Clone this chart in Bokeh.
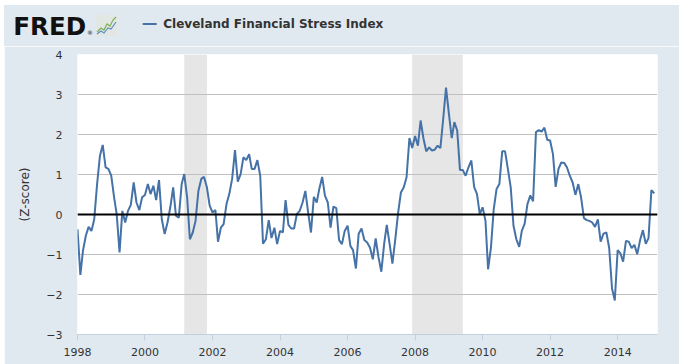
import pandas as pd
from datetime import datetime
from bokeh.plotting import figure
from bokeh.layouts import column, row
from bokeh.models import (Range1d, FixedTicker, DatetimeTickFormatter, Span,
                          BoxAnnotation, Div, Spacer)
from bokeh.embed import file_html
from bokeh.resources import INLINE

# ---------------- data ----------------
series_name = "Cleveland Financial Stress Index"
start_month = "1998-01-01"
cfsi = [
    -0.37, -1.51, -0.91, -0.53, -0.31, -0.41, -0.12, 0.76, 1.47, 1.74, 1.18, 1.14,
    0.97, 0.43, 0.01, -0.95, 0.09, -0.20, 0.09, 0.24, 0.80, 0.30, 0.11, 0.43,
    0.49, 0.76, 0.51, 0.72, 0.36, 0.86, -0.12, -0.49, -0.20, 0.18, 0.68, -0.03,
    -0.08, 0.76, 1.01, 0.43, -0.62, -0.45, -0.16, 0.59, 0.89, 0.94, 0.68, 0.22,
    0.05, 0.11, -0.68, -0.33, -0.24, 0.26, 0.51, 0.89, 1.61, 0.82, 1.01, 1.43,
    1.36, 1.51, 1.14, 1.14, 1.36, 0.97, -0.73, -0.62, -0.14, -0.59, -0.33, -0.74,
    -0.41, -0.45, 0.36, -0.26, -0.35, -0.35, 0.01, 0.09, 0.30, 0.59, 0.04, -0.45,
    0.44, 0.30, 0.64, 0.94, 0.47, 0.30, -0.33, 0.20, 0.16, -0.64, -0.74, -0.41,
    -0.28, -0.79, -0.89, -1.35, -0.48, -0.35, -0.64, -0.70, -0.83, -1.12, -0.60, -1.06,
    -1.43, -0.73, -0.26, -0.74, -1.23, -0.62, 0.03, 0.55, 0.68, 0.93, 1.91, 1.66,
    1.96, 1.72, 2.35, 1.90, 1.58, 1.68, 1.60, 1.62, 1.72, 1.66, 2.40, 3.17,
    2.52, 1.91, 2.31, 2.10, 1.11, 1.11, 0.97, 1.18, 1.35, 0.69, 0.51, 0.01,
    0.18, -0.16, -1.37, -0.83, 0.13, 0.64, 0.76, 1.58, 1.58, 1.14, 0.68, -0.28,
    -0.62, -0.81, -0.41, -0.23, 0.26, 0.48, 0.33, 2.06, 2.11, 2.07, 2.17, 1.87,
    1.85, 1.51, 0.69, 1.14, 1.30, 1.29, 1.18, 0.97, 0.80, 0.49, 0.76, 0.43,
    -0.09, -0.14, -0.16, -0.20, -0.31, -0.12, -0.68, -0.48, -0.45, -0.83, -1.85, -2.15,
    -0.89, -0.98, -1.18, -0.66, -0.68, -0.84, -0.76, -0.99, -0.64, -0.39, -0.73, -0.59,
    0.61, 0.53,
]
recessions = [("2001-03-01", "2001-11-01"), ("2007-12-01", "2009-06-01")]
x_tick_years = [1998, 2000, 2002, 2004, 2006, 2008, 2010, 2012, 2014]
y_ticks = [-3, -2, -1, 0, 1, 2, 3, 4]
y_title = "(Z-score)"
logo_text = "FRED"

dates = pd.date_range(start=start_month, periods=len(cfsi), freq="MS")

BG = "#e1e9f0"
LINE = "#4572a7"
PAD_L = 4            # white strip on the left, as in the reference
W = 679 - PAD_L
HDR_H = 46

# ---------------- header (logo + legend) as inline SVG text ----------------
logo_style = "font-family:'DejaVu Sans';font-weight:bold;font-size:25px"
leg_style = "font-family:'DejaVu Sans';font-weight:bold;font-size:12px"
header_svg = f"""<svg xmlns="http://www.w3.org/2000/svg" width="{W}" height="{HDR_H}" style="display:block">
<rect x="0" y="0" width="{W}" height="{HDR_H}" fill="{BG}"/>
<rect x="0" y="0" width="{W}" height="5" fill="#ffffff"/>
<text x="9.3" y="35" style="{logo_style}" textLength="73" lengthAdjust="spacingAndGlyphs" fill="#111111">{logo_text}</text>
<text x="83" y="35" style="font-family:'DejaVu Sans';font-size:6px" fill="#111111">&#174;</text>
<rect x="92" y="15" width="21" height="21" fill="#e3e7e3"/>
<polyline points="93,32 97,28 100,30 103,24 106,26 109,20 112,17" fill="none" stroke="#7fb25a" stroke-width="1.2"/>
<polyline points="93,34 97,31 100,33 104,28 107,29 112,22" fill="none" stroke="#5b8fc4" stroke-width="1.2"/>
<line x1="138.7" y1="24" x2="152.7" y2="24" stroke="{LINE}" stroke-width="2"/>
<text x="159.3" y="28.3" style="{leg_style}" fill="#333333">{series_name}</text>
</svg>"""
hdr = Div(text=header_svg, width=W, height=HDR_H, margin=0)

# ---------------- main chart ----------------
FRAME_L, FRAME_T, FRAME_W, FRAME_H = 77 - PAD_L, 8, 580, 280
FIG_H = 318
p = figure(width=W, height=FIG_H, x_axis_type="datetime",
           x_range=Range1d(datetime(1998, 1, 1), datetime(2015, 3, 8)),
           y_range=Range1d(-3, 4), toolbar_location=None, output_backend="svg",
           min_border_left=FRAME_L, min_border_right=W - FRAME_L - FRAME_W,
           min_border_top=FRAME_T, min_border_bottom=FIG_H - FRAME_T - FRAME_H)
p.background_fill_color = "white"
p.border_fill_color = BG
p.outline_line_color = None

for s, e in recessions:
    p.add_layout(BoxAnnotation(left=pd.Timestamp(s), right=pd.Timestamp(e),
                               fill_color="#e6e6e6", fill_alpha=1.0, line_color=None,
                               level="image"))

p.xgrid.visible = False
p.ygrid.grid_line_color = "#c0c0c0"
p.ygrid.grid_line_width = 1
p.ygrid.ticker = FixedTicker(ticks=y_ticks)

p.line(dates, cfsi, line_color=LINE, line_width=2)
p.add_layout(Span(location=0, dimension="width", line_color="black", line_width=2))

xtick_ms = [pd.Timestamp(f"{y}-01-01").value // 10**6 for y in x_tick_years]
p.xaxis.ticker = FixedTicker(ticks=xtick_ms)
p.xaxis.formatter = DatetimeTickFormatter(years="%Y", months="%Y", days="%Y")
p.xaxis.axis_line_color = "#c0d0e0"
p.xaxis.major_tick_line_color = "#c0d0e0"
p.xaxis.major_tick_out = 6
p.xaxis.major_tick_in = 0
p.xaxis.minor_tick_line_color = None
p.xaxis.major_label_standoff = 7

p.yaxis.ticker = FixedTicker(ticks=y_ticks)
p.yaxis.axis_line_color = None
p.yaxis.major_tick_line_color = None
p.yaxis.major_tick_out = 0
p.yaxis.major_tick_in = 0
p.yaxis.minor_tick_line_color = None
p.yaxis.major_label_standoff = 15
p.yaxis.axis_label = y_title
p.yaxis.axis_label_standoff = 11
p.yaxis.axis_label_text_font_style = "normal"
p.yaxis.axis_label_text_font_size = "12px"
p.yaxis.axis_label_text_font = "DejaVu Sans"
p.yaxis.axis_label_text_color = "#333333"

for ax in (p.xaxis, p.yaxis):
    ax.major_label_text_font = "DejaVu Sans"
    ax.major_label_text_font_size = "11px"
    ax.major_label_text_color = "#333333"

layout = row(Spacer(width=PAD_L, height=HDR_H + FIG_H, margin=0),
             column(hdr, p, spacing=0), spacing=0)
open("out.html", "w").write(file_html(layout, INLINE))
